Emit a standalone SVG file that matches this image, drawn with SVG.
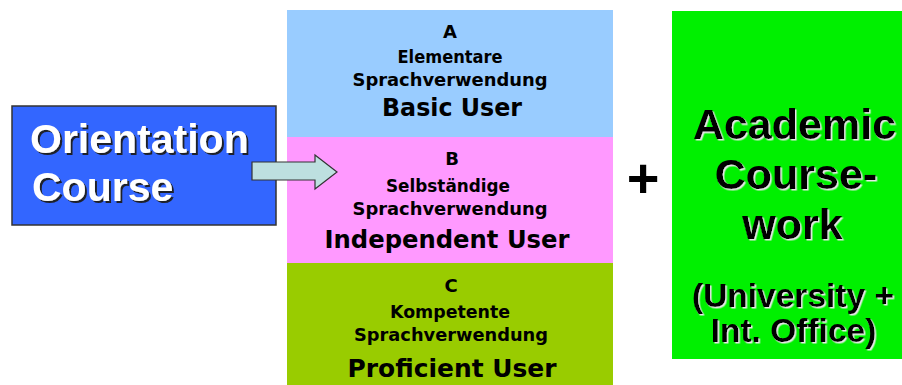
<svg xmlns="http://www.w3.org/2000/svg" width="902" height="385" viewBox="0 0 902 385">
<defs>
<filter id="darkShadow" x="-5%" y="-20%" width="115%" height="150%">
<feDropShadow dx="2" dy="2" stdDeviation="0.4" flood-color="#1a1a1a" flood-opacity="0.95"/>
</filter>
<filter id="lightShadow" x="-5%" y="-20%" width="115%" height="150%">
<feDropShadow dx="1.5" dy="1.5" stdDeviation="0.3" flood-color="#e8e8e8" flood-opacity="1"/>
</filter>
</defs>
<style>
.lvl{font-family:"DejaVu Sans","Liberation Sans",sans-serif;font-weight:bold;fill:#000;text-anchor:middle}
.sm{font-size:18px}
.big{font-size:25px}
.hd{font-family:"Liberation Sans",Arial,sans-serif;font-weight:bold;text-anchor:middle;fill:#000}
.ori{font-family:"Liberation Sans",Arial,sans-serif;font-weight:bold;font-size:41px;fill:#fff}
</style>
<rect width="902" height="385" fill="#ffffff"/>
<g id="level-a">
<rect x="287" y="10" width="326" height="127" fill="#99ccff"/>
<text class="lvl sm" x="450" y="38">A</text>
<text class="lvl sm" x="450" y="63" textLength="105" lengthAdjust="spacingAndGlyphs">Elementare</text>
<text class="lvl sm" x="450" y="86" textLength="195" lengthAdjust="spacingAndGlyphs">Sprachverwendung</text>
<text class="lvl big" x="452" y="116" textLength="140" lengthAdjust="spacingAndGlyphs">Basic User</text>
</g>
<g id="level-b">
<rect x="287" y="137" width="326" height="126" fill="#ff99ff"/>
<text class="lvl sm" x="452" y="165">B</text>
<text class="lvl sm" x="448" y="192" textLength="124" lengthAdjust="spacingAndGlyphs">Selbständige</text>
<text class="lvl sm" x="450" y="215" textLength="195" lengthAdjust="spacingAndGlyphs">Sprachverwendung</text>
<text class="lvl big" x="447" y="248" textLength="245" lengthAdjust="spacingAndGlyphs">Independent User</text>
</g>
<g id="level-c">
<rect x="287" y="263" width="326" height="122" fill="#99cc00"/>
<text class="lvl sm" x="451" y="292">C</text>
<text class="lvl sm" x="450" y="318" textLength="120" lengthAdjust="spacingAndGlyphs">Kompetente</text>
<text class="lvl sm" x="451" y="341" textLength="194" lengthAdjust="spacingAndGlyphs">Sprachverwendung</text>
<text class="lvl big" x="452" y="377" textLength="209" lengthAdjust="spacingAndGlyphs">Proficient User</text>
</g>
<g id="orientation">
<rect x="12" y="106" width="264" height="119" fill="#3366ff" stroke="#333333" stroke-width="1.5"/>
<g filter="url(#darkShadow)">
<text class="ori" x="30" y="153">Orientation</text>
<text class="ori" x="32" y="201">Course</text>
</g>
</g>
<g id="connectors">
<polygon points="252,162 315,162 315,155 337,172 315,189 315,180 252,180" fill="#bde0e0" stroke="#333333" stroke-width="1.2" stroke-linejoin="miter"/>
</g>
<g id="plus">
<text class="hd" x="643" y="197" font-size="56">+</text>
</g>
<g id="academic">
<rect x="672" y="11" width="240" height="348" fill="#00f000"/>
<g filter="url(#lightShadow)">
<text class="hd" x="794.5" y="139" font-size="43">Academic</text>
<text class="hd" x="796" y="189" font-size="43">Course-</text>
<text class="hd" x="792.5" y="239" font-size="43">work</text>
<text class="hd" x="793" y="307" font-size="33.5">(University +</text>
<text class="hd" x="793.5" y="342" font-size="33.5">Int. Office)</text>
</g>
</g>
</svg>
